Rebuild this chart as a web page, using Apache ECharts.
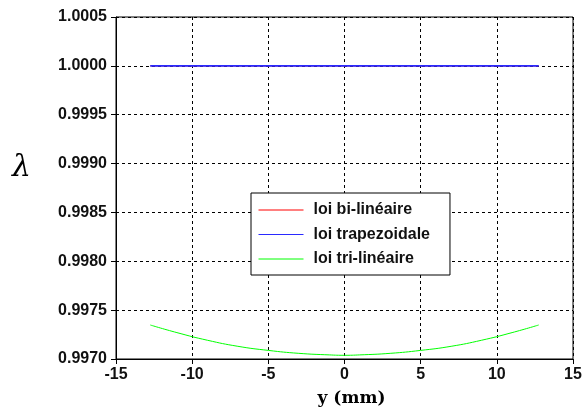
<!DOCTYPE html>
<html>
<head>
<meta charset="utf-8">
<script src="https://cdn.jsdelivr.net/npm/echarts@6/dist/echarts.min.js"></script>
<style>
  html, body { margin: 0; padding: 0; background: #fff; }
  #chart { width: 586px; height: 412px; }
</style>
</head>
<body>
<div id="chart"></div>
<script>
// Position across the section, y (mm)
const yPositions = [-12.75, -11, -9, -7, -5, -3, -1, 0, 1, 3, 5, 7, 9, 11, 12.75];

// λ for each law
const lambdaBiLineaire = [1, 1, 1, 1, 1, 1, 1, 1, 1, 1, 1, 1, 1, 1, 1];
const lambdaTrapezoidale = [1, 1, 1, 1, 1, 1, 1, 1, 1, 1, 1, 1, 1, 1, 1];
const lambdaTriLineaire = [0.997348, 0.997270, 0.997192, 0.997130, 0.997088, 0.997058, 0.997042,
                           0.997038, 0.997042, 0.997058, 0.997088, 0.997130, 0.997192, 0.997270, 0.997348];

const seriesNames = ['loi bi-linéaire', 'loi trapezoidale', 'loi tri-linéaire'];
const seriesColors = ['#ff0000', '#2a2aff', '#00ff00'];

const pairs = vals => yPositions.map((x, i) => [x, vals[i]]);

const font = 'Liberation Sans';
const chart = echarts.init(document.getElementById('chart'));

chart.setOption({
  animation: false,
  grid: {
    left: 116, right: 13, top: 17, bottom: 50,
    show: true, borderColor: '#000', borderWidth: 1
  },
  xAxis: {
    type: 'value', min: -15, max: 15, interval: 5,
    name: 'y (mm)', nameLocation: 'middle', nameGap: 31,
    nameTextStyle: { fontFamily: 'DejaVu Serif', fontWeight: 'bold', fontSize: 17, color: '#000', padding: [0, 0, 0, 14] },
    axisLine: { onZero: false, lineStyle: { color: '#000', width: 1 } },
    axisTick: { show: true, length: 5, lineStyle: { color: '#000' } },
    axisLabel: { fontFamily: font, fontWeight: 'bold', fontSize: 16, color: '#111', margin: 8 },
    splitLine: { show: true, lineStyle: { color: '#000', type: [3, 3], width: 1 } }
  },
  yAxis: {
    type: 'value', min: 0.997, max: 1.0005, interval: 0.0005,
    axisLine: { show: true, onZero: false, lineStyle: { color: '#000', width: 1 } },
    axisTick: { show: true, length: 5, lineStyle: { color: '#000' } },
    axisLabel: {
      fontFamily: font, fontWeight: 'bold', fontSize: 16, color: '#111', margin: 9,
      formatter: v => v.toFixed(4)
    },
    splitLine: { show: true, lineStyle: { color: '#000', type: [3, 3], width: 1 } }
  },
  legend: {
    orient: 'vertical',
    left: 251, top: 193,
    padding: [9, 20, 8, 7],
    itemWidth: 45, itemHeight: 14, itemGap: 8.5,
    backgroundColor: '#fff',
    borderColor: '#000', borderWidth: 1,
    itemStyle: { opacity: 0 },
    lineStyle: { width: 1 },
    textStyle: { fontFamily: font, fontWeight: 'bold', fontSize: 16, color: '#111', padding: [0, 0, 0, 5] },
    data: seriesNames
  },
  graphic: [{
    type: 'text', left: 12, top: 153,
    style: { text: 'λ', font: 'italic 30px "DejaVu Serif"', fill: '#000' }
  }],
  series: [
    { name: seriesNames[0], type: 'line', data: pairs(lambdaBiLineaire), symbol: 'none', z: 1,
      lineStyle: { color: seriesColors[0], width: 1 }, itemStyle: { color: seriesColors[0] } },
    { name: seriesNames[1], type: 'line', data: pairs(lambdaTrapezoidale), symbol: 'none', z: 3,
      lineStyle: { color: seriesColors[1], width: 1.6 }, itemStyle: { color: seriesColors[1] } },
    { name: seriesNames[2], type: 'line', data: pairs(lambdaTriLineaire), symbol: 'none', smooth: true, z: 2,
      lineStyle: { color: seriesColors[2], width: 1 }, itemStyle: { color: seriesColors[2] } }
  ]
});
</script>
</body>
</html>
